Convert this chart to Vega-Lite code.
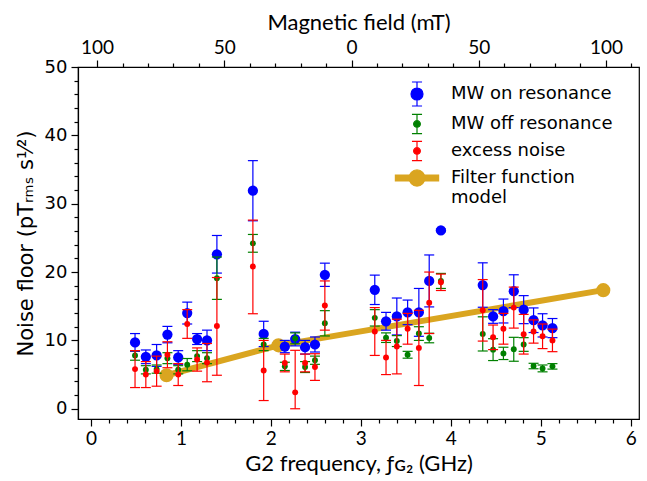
{
  "$schema": "https://vega.github.io/schema/vega-lite/v6.json",
  "width": 561,
  "height": 352,
  "autosize": {"type": "none"},
  "padding": {"left": 78, "top": 67, "right": 8, "bottom": 62},
  "background": "white",
  "config": {
    "view": {"stroke": "#000", "strokeWidth": 1.2},
    "axis": {"domainColor": "#000", "domainWidth": 1.2, "tickColor": "#000", "tickWidth": 1.2, "labelColor": "#000", "titleColor": "#000", "grid": false, "titleFontWeight": "normal", "labelFlush": false, "labelOverlap": false},
    "legend": {"labelColor": "#000"}
  },
  "datasets": {
    "pts": [
      {"freq": 0.49, "series": "MW on resonance", "noise": 9.7, "low": 8.4, "high": 11.0},
      {"freq": 0.61, "series": "MW on resonance", "noise": 7.6, "low": 6.6, "high": 8.6},
      {"freq": 0.73, "series": "MW on resonance", "noise": 7.8, "low": 6.2, "high": 9.4},
      {"freq": 0.85, "series": "MW on resonance", "noise": 10.85, "low": 9.65, "high": 12.05},
      {"freq": 0.97, "series": "MW on resonance", "noise": 7.5, "low": 6.5, "high": 8.5},
      {"freq": 1.07, "series": "MW on resonance", "noise": 14.0, "low": 12.4, "high": 15.6},
      {"freq": 1.18, "series": "MW on resonance", "noise": 10.2, "low": 9.4, "high": 11.0},
      {"freq": 1.29, "series": "MW on resonance", "noise": 10.0, "low": 8.5, "high": 11.5},
      {"freq": 1.40, "series": "MW on resonance", "noise": 22.6, "low": 19.85, "high": 25.35},
      {"freq": 1.80, "series": "MW on resonance", "noise": 31.9, "low": 27.5, "high": 36.3},
      {"freq": 1.92, "series": "MW on resonance", "noise": 10.95, "low": 9.1, "high": 12.8},
      {"freq": 2.155, "series": "MW on resonance", "noise": 9.1, "low": 8.2, "high": 10.0},
      {"freq": 2.27, "series": "MW on resonance", "noise": 10.2, "low": 9.2, "high": 11.2},
      {"freq": 2.38, "series": "MW on resonance", "noise": 9.0, "low": 8.0, "high": 10.0},
      {"freq": 2.49, "series": "MW on resonance", "noise": 9.4, "low": 8.3, "high": 10.5},
      {"freq": 2.60, "series": "MW on resonance", "noise": 19.6, "low": 17.9, "high": 21.3},
      {"freq": 3.155, "series": "MW on resonance", "noise": 17.4, "low": 15.25, "high": 19.55},
      {"freq": 3.28, "series": "MW on resonance", "noise": 12.8, "low": 11.5, "high": 14.1},
      {"freq": 3.40, "series": "MW on resonance", "noise": 13.5, "low": 10.8, "high": 16.2},
      {"freq": 3.52, "series": "MW on resonance", "noise": 14.1, "low": 12.3, "high": 15.9},
      {"freq": 3.645, "series": "MW on resonance", "noise": 14.1, "low": 10.6, "high": 17.6},
      {"freq": 3.76, "series": "MW on resonance", "noise": 18.7, "low": 14.9, "high": 22.5},
      {"freq": 3.89, "series": "MW on resonance", "noise": 26.1, "low": 25.9, "high": 26.3},
      {"freq": 4.355, "series": "MW on resonance", "noise": 18.1, "low": 14.85, "high": 21.35},
      {"freq": 4.47, "series": "MW on resonance", "noise": 13.5, "low": 12.5, "high": 14.5},
      {"freq": 4.585, "series": "MW on resonance", "noise": 14.3, "low": 12.55, "high": 16.05},
      {"freq": 4.70, "series": "MW on resonance", "noise": 17.2, "low": 14.8, "high": 19.6},
      {"freq": 4.81, "series": "MW on resonance", "noise": 14.5, "low": 12.45, "high": 16.55},
      {"freq": 4.92, "series": "MW on resonance", "noise": 12.95, "low": 11.15, "high": 14.75},
      {"freq": 5.02, "series": "MW on resonance", "noise": 12.2, "low": 10.5, "high": 13.9},
      {"freq": 5.13, "series": "MW on resonance", "noise": 11.8, "low": 10.4, "high": 13.2},
      {"freq": 0.49, "series": "MW off resonance", "noise": 7.8, "low": 7.1, "high": 8.5},
      {"freq": 0.61, "series": "MW off resonance", "noise": 5.7, "low": 5.1, "high": 6.3},
      {"freq": 0.73, "series": "MW off resonance", "noise": 5.8, "low": 5.2, "high": 6.4},
      {"freq": 0.85, "series": "MW off resonance", "noise": 7.4, "low": 6.6, "high": 8.2},
      {"freq": 0.97, "series": "MW off resonance", "noise": 5.7, "low": 5.1, "high": 6.3},
      {"freq": 1.07, "series": "MW off resonance", "noise": 6.45, "low": 5.55, "high": 7.35},
      {"freq": 1.18, "series": "MW off resonance", "noise": 7.7, "low": 6.9, "high": 8.5},
      {"freq": 1.29, "series": "MW off resonance", "noise": 7.4, "low": 6.6, "high": 8.2},
      {"freq": 1.40, "series": "MW off resonance", "noise": 19.1, "low": 16.0, "high": 22.2},
      {"freq": 1.80, "series": "MW off resonance", "noise": 24.2, "low": 22.9, "high": 25.5},
      {"freq": 1.92, "series": "MW off resonance", "noise": 9.4, "low": 8.5, "high": 10.3},
      {"freq": 2.155, "series": "MW off resonance", "noise": 6.2, "low": 5.6, "high": 6.8},
      {"freq": 2.27, "series": "MW off resonance", "noise": 10.3, "low": 9.5, "high": 11.1},
      {"freq": 2.38, "series": "MW off resonance", "noise": 6.1, "low": 5.3, "high": 6.9},
      {"freq": 2.49, "series": "MW off resonance", "noise": 7.1, "low": 6.5, "high": 7.7},
      {"freq": 2.60, "series": "MW off resonance", "noise": 12.5, "low": 10.65, "high": 14.35},
      {"freq": 3.155, "series": "MW off resonance", "noise": 13.3, "low": 12.1, "high": 14.5},
      {"freq": 3.28, "series": "MW off resonance", "noise": 10.4, "low": 9.7, "high": 11.1},
      {"freq": 3.40, "series": "MW off resonance", "noise": 9.9, "low": 9.1, "high": 10.7},
      {"freq": 3.52, "series": "MW off resonance", "noise": 7.9, "low": 7.4, "high": 8.4},
      {"freq": 3.645, "series": "MW off resonance", "noise": 11.0, "low": 10.0, "high": 12.0},
      {"freq": 3.76, "series": "MW off resonance", "noise": 10.35, "low": 9.65, "high": 11.05},
      {"freq": 3.89, "series": "MW off resonance", "noise": 18.7, "low": 17.6, "high": 19.8},
      {"freq": 4.355, "series": "MW off resonance", "noise": 10.95, "low": 8.45, "high": 13.45},
      {"freq": 4.47, "series": "MW off resonance", "noise": 8.65, "low": 7.05, "high": 10.25},
      {"freq": 4.585, "series": "MW off resonance", "noise": 8.1, "low": 7.2, "high": 9.0},
      {"freq": 4.70, "series": "MW off resonance", "noise": 8.7, "low": 6.95, "high": 10.45},
      {"freq": 4.81, "series": "MW off resonance", "noise": 9.4, "low": 8.4, "high": 10.4},
      {"freq": 4.92, "series": "MW off resonance", "noise": 6.25, "low": 5.85, "high": 6.65},
      {"freq": 5.02, "series": "MW off resonance", "noise": 5.9, "low": 5.4, "high": 6.4},
      {"freq": 5.13, "series": "MW off resonance", "noise": 6.2, "low": 5.8, "high": 6.6},
      {"freq": 0.49, "series": "excess noise", "noise": 5.8, "low": 3.1, "high": 8.5},
      {"freq": 0.61, "series": "excess noise", "noise": 5.0, "low": 3.1, "high": 6.9},
      {"freq": 0.73, "series": "excess noise", "noise": 5.5, "low": 3.3, "high": 7.7},
      {"freq": 0.85, "series": "excess noise", "noise": 7.9, "low": 6.0, "high": 9.8},
      {"freq": 0.97, "series": "excess noise", "noise": 5.0, "low": 3.4, "high": 6.6},
      {"freq": 1.07, "series": "excess noise", "noise": 12.4, "low": 10.3, "high": 14.5},
      {"freq": 1.18, "series": "excess noise", "noise": 7.2, "low": 5.5, "high": 8.9},
      {"freq": 1.29, "series": "excess noise", "noise": 6.75, "low": 3.95, "high": 9.55},
      {"freq": 1.40, "series": "excess noise", "noise": 12.1, "low": 4.9, "high": 19.2},
      {"freq": 1.80, "series": "excess noise", "noise": 20.8, "low": 13.9, "high": 27.6},
      {"freq": 1.92, "series": "excess noise", "noise": 5.6, "low": 1.2, "high": 10.0},
      {"freq": 2.155, "series": "excess noise", "noise": 6.7, "low": 5.4, "high": 8.0},
      {"freq": 2.27, "series": "excess noise", "noise": 2.4, "low": 0.0, "high": 8.55},
      {"freq": 2.38, "series": "excess noise", "noise": 6.7, "low": 5.4, "high": 8.0},
      {"freq": 2.49, "series": "excess noise", "noise": 6.1, "low": 4.15, "high": 8.05},
      {"freq": 2.60, "series": "excess noise", "noise": 15.1, "low": 11.5, "high": 18.7},
      {"freq": 3.155, "series": "excess noise", "noise": 11.3, "low": 7.8, "high": 14.8},
      {"freq": 3.28, "series": "excess noise", "noise": 7.5, "low": 5.0, "high": 10.0},
      {"freq": 3.40, "series": "excess noise", "noise": 9.1, "low": 5.1, "high": 13.1},
      {"freq": 3.52, "series": "excess noise", "noise": 11.7, "low": 9.45, "high": 13.95},
      {"freq": 3.645, "series": "excess noise", "noise": 8.9, "low": 3.4, "high": 14.4},
      {"freq": 3.76, "series": "excess noise", "noise": 15.5, "low": 11.0, "high": 20.0},
      {"freq": 3.89, "series": "excess noise", "noise": 18.5, "low": 17.3, "high": 19.7},
      {"freq": 4.355, "series": "excess noise", "noise": 14.4, "low": 9.9, "high": 18.9},
      {"freq": 4.47, "series": "excess noise", "noise": 10.45, "low": 8.65, "high": 12.25},
      {"freq": 4.585, "series": "excess noise", "noise": 11.7, "low": 9.45, "high": 13.95},
      {"freq": 4.70, "series": "excess noise", "noise": 14.8, "low": 11.8, "high": 17.8},
      {"freq": 4.81, "series": "excess noise", "noise": 10.9, "low": 8.0, "high": 13.8},
      {"freq": 4.92, "series": "excess noise", "noise": 11.3, "low": 9.6, "high": 13.0},
      {"freq": 5.02, "series": "excess noise", "noise": 10.6, "low": 8.8, "high": 12.4},
      {"freq": 5.13, "series": "excess noise", "noise": 10.0, "low": 8.35, "high": 11.65}
    ],
    "model": [
      {"freq": 0.84, "noise": 4.9},
      {"freq": 2.085, "noise": 9.28},
      {"freq": 5.695, "noise": 17.35}
    ],
    "legendrows": [
      {"series": "MW on resonance"},
      {"series": "MW off resonance"},
      {"series": "excess noise"},
      {"series": "Filter function model"}
    ]
  },
  "layer": [
    {
      "layer": [
        {
          "data": {"name": "model"},
          "mark": {"type": "line", "color": "#daa520", "strokeWidth": 6},
          "encoding": {
            "x": {"field": "freq", "type": "quantitative", "scale": {"domain": [-0.144, 6.092], "nice": false, "zero": false}, "axis": null},
            "y": {"field": "noise", "type": "quantitative", "scale": {"domain": [-1.5, 50], "nice": false, "zero": false}, "axis": null}
          }
        },
        {
          "data": {"name": "model"},
          "mark": {"type": "point", "filled": true, "color": "#daa520", "size": 200, "opacity": 1},
          "encoding": {
            "x": {"field": "freq", "type": "quantitative", "scale": {"domain": [-0.144, 6.092], "nice": false, "zero": false}, "axis": null},
            "y": {"field": "noise", "type": "quantitative", "scale": {"domain": [-1.5, 50], "nice": false, "zero": false}, "axis": null}
          }
        },
        {
          "data": {"name": "pts"},
          "transform": [{"filter": "datum.series === 'MW on resonance'"}],
          "layer": [
            {"mark": {"type": "rule", "color": "#0000ff", "strokeWidth": 1.2},
             "encoding": {"y": {"field": "low", "type": "quantitative", "scale": {"domain": [-1.5, 50], "nice": false, "zero": false}, "axis": null}, "y2": {"field": "high"}}},
            {"mark": {"type": "tick", "orient": "horizontal", "color": "#0000ff", "size": 10, "thickness": 1.2, "opacity": 1},
             "encoding": {"y": {"field": "low", "type": "quantitative", "scale": {"domain": [-1.5, 50], "nice": false, "zero": false}, "axis": null}}},
            {"mark": {"type": "tick", "orient": "horizontal", "color": "#0000ff", "size": 10, "thickness": 1.2, "opacity": 1},
             "encoding": {"y": {"field": "high", "type": "quantitative", "scale": {"domain": [-1.5, 50], "nice": false, "zero": false}, "axis": null}}},
            {"mark": {"type": "point", "filled": true, "color": "#0000ff", "size": 105, "opacity": 1},
             "encoding": {"y": {"field": "noise", "type": "quantitative", "scale": {"domain": [-1.5, 50], "nice": false, "zero": false}, "axis": null}}}
          ],
          "encoding": {
            "x": {"field": "freq", "type": "quantitative", "scale": {"domain": [-0.144, 6.092], "nice": false, "zero": false}, "axis": null}
          }
        },
        {
          "data": {"name": "pts"},
          "transform": [{"filter": "datum.series === 'MW off resonance'"}],
          "layer": [
            {"mark": {"type": "rule", "color": "#008000", "strokeWidth": 1.2},
             "encoding": {"y": {"field": "low", "type": "quantitative", "scale": {"domain": [-1.5, 50], "nice": false, "zero": false}, "axis": null}, "y2": {"field": "high"}}},
            {"mark": {"type": "tick", "orient": "horizontal", "color": "#008000", "size": 10, "thickness": 1.2, "opacity": 1},
             "encoding": {"y": {"field": "low", "type": "quantitative", "scale": {"domain": [-1.5, 50], "nice": false, "zero": false}, "axis": null}}},
            {"mark": {"type": "tick", "orient": "horizontal", "color": "#008000", "size": 10, "thickness": 1.2, "opacity": 1},
             "encoding": {"y": {"field": "high", "type": "quantitative", "scale": {"domain": [-1.5, 50], "nice": false, "zero": false}, "axis": null}}},
            {"mark": {"type": "point", "filled": true, "color": "#008000", "size": 35, "opacity": 1},
             "encoding": {"y": {"field": "noise", "type": "quantitative", "scale": {"domain": [-1.5, 50], "nice": false, "zero": false}, "axis": null}}}
          ],
          "encoding": {
            "x": {"field": "freq", "type": "quantitative", "scale": {"domain": [-0.144, 6.092], "nice": false, "zero": false}, "axis": null}
          }
        },
        {
          "data": {"name": "pts"},
          "transform": [{"filter": "datum.series === 'excess noise'"}],
          "layer": [
            {"mark": {"type": "rule", "color": "#ff0000", "strokeWidth": 1.2},
             "encoding": {"y": {"field": "low", "type": "quantitative", "scale": {"domain": [-1.5, 50], "nice": false, "zero": false}, "axis": null}, "y2": {"field": "high"}}},
            {"mark": {"type": "tick", "orient": "horizontal", "color": "#ff0000", "size": 10, "thickness": 1.2, "opacity": 1},
             "encoding": {"y": {"field": "low", "type": "quantitative", "scale": {"domain": [-1.5, 50], "nice": false, "zero": false}, "axis": null}}},
            {"mark": {"type": "tick", "orient": "horizontal", "color": "#ff0000", "size": 10, "thickness": 1.2, "opacity": 1},
             "encoding": {"y": {"field": "high", "type": "quantitative", "scale": {"domain": [-1.5, 50], "nice": false, "zero": false}, "axis": null}}},
            {"mark": {"type": "point", "filled": true, "color": "#ff0000", "size": 35, "opacity": 1},
             "encoding": {"y": {"field": "noise", "type": "quantitative", "scale": {"domain": [-1.5, 50], "nice": false, "zero": false}, "axis": null}}}
          ],
          "encoding": {
            "x": {"field": "freq", "type": "quantitative", "scale": {"domain": [-0.144, 6.092], "nice": false, "zero": false}, "axis": null}
          }
        },
        {
          "data": {"name": "legendrows"},
          "mark": {"type": "point", "filled": true, "opacity": 0},
          "encoding": {
            "color": {"field": "series", "type": "nominal",
              "scale": {"domain": ["MW on resonance", "MW off resonance", "excess noise", "Filter function model"], "range": ["#0000ff", "#008000", "#ff0000", "#daa520"]},
              "legend": {
                "title": null, "orient": "none", "legendX": 326, "legendY": 14, "padding": 0,
                "symbolSize": 576, "symbolStrokeWidth": 1.2, "symbolOpacity": 1,
                "labelFont": "DejaVu Sans", "labelFontSize": 18, "labelOffset": 21, "rowPadding": 2, "labelLimit": 400,
                "labelExpr": "datum.label === 'Filter function model' ? ['Filter function', 'model'] : datum.label",
                "encode": {"symbols": {"update": {"fill": {"scale": "color", "field": "value"}, "stroke": {"scale": "color", "field": "value"}, "opacity": {"value": 1}, "fillOpacity": {"value": 1}, "strokeOpacity": {"value": 1}}}}
              }},
            "shape": {"field": "series", "type": "nominal",
              "scale": {"domain": ["MW on resonance", "MW off resonance", "excess noise", "Filter function model"],
                "range": [
                  "M0,-1V1M-0.42,-1H0.42M-0.42,1H0.42M-0.5,0A0.5,0.5 0 1,1 0.5,0A0.5,0.5 0 1,1 -0.5,0Z",
                  "M0,-0.8V0.8M-0.42,-0.8H0.42M-0.42,0.8H0.42M-0.28,0A0.28,0.28 0 1,1 0.28,0A0.28,0.28 0 1,1 -0.28,0Z",
                  "M0,-0.8V0.8M-0.42,-0.8H0.42M-0.42,0.8H0.42M-0.28,0A0.28,0.28 0 1,1 0.28,0A0.28,0.28 0 1,1 -0.28,0Z",
                  "M-1.8,-0.25H1.8V0.25H-1.8ZM-0.67,0A0.67,0.67 0 1,1 0.67,0A0.67,0.67 0 1,1 -0.67,0Z"
                ]}}
          }
        }
      ]
    },
    {
      "data": {"name": "model"},
      "mark": {"type": "point", "opacity": 0},
      "encoding": {
        "x": {"field": "freq", "type": "quantitative", "scale": {"domain": [-107.5, 113], "nice": false, "zero": false},
          "axis": {
            "orient": "top",
            "values": [-100, -90, -80, -70, -60, -50, -40, -30, -20, -10, 0, 10, 20, 30, 40, 50, 60, 70, 80, 90, 100, 110],
            "labelExpr": "datum.value % 50 === 0 ? format(abs(datum.value), 'd') : ''",
            "tickSize": {"condition": {"test": "datum.value % 50 === 0", "value": 7}, "value": 4},
            "labelOverlap": false,
            "labelFont": "Lato", "labelFontSize": 19, "labelPadding": 3,
            "title": "Magnetic field (mT)", "titleFont": "Lato", "titleFontSize": 22, "titlePadding": 4
          }},
        "y": {"field": "noise", "type": "quantitative", "scale": {"domain": [-1.5, 50], "nice": false, "zero": false},
          "axis": {
            "orient": "left",
            "values": [0, 2, 4, 6, 8, 10, 12, 14, 16, 18, 20, 22, 24, 26, 28, 30, 32, 34, 36, 38, 40, 42, 44, 46, 48, 50],
            "labelExpr": "datum.value % 10 === 0 ? format(datum.value, 'd') : ''",
            "tickSize": {"condition": {"test": "datum.value % 10 === 0", "value": 7}, "value": 4},
            "labelOverlap": false,
            "labelFont": "DejaVu Sans", "labelFontSize": 18, "labelPadding": 4,
            "title": "Noise floor (pTᵣₘₛ s¹⁄²)", "titleFont": "DejaVu Sans", "titleFontSize": 21, "titlePadding": 8
          }}
      }
    },
    {
      "data": {"name": "model"},
      "mark": {"type": "point", "opacity": 0},
      "encoding": {
        "x": {"field": "freq", "type": "quantitative", "scale": {"domain": [-0.144, 6.092], "nice": false, "zero": false},
          "axis": {
            "orient": "bottom",
            "values": [0, 0.2, 0.4, 0.6, 0.8, 1, 1.2, 1.4, 1.6, 1.8, 2, 2.2, 2.4, 2.6, 2.8, 3, 3.2, 3.4, 3.6, 3.8, 4, 4.2, 4.4, 4.6, 4.8, 5, 5.2, 5.4, 5.6, 5.8, 6],
            "labelExpr": "abs(datum.value - round(datum.value)) < 0.001 ? format(datum.value, 'd') : ''",
            "tickSize": {"condition": {"test": "abs(datum.value - round(datum.value)) < 0.001", "value": 7}, "value": 4},
            "labelOverlap": false,
            "labelFont": "Lato", "labelFontSize": 19, "labelPadding": 3,
            "title": "G2 frequency, ƒɢ₂ (GHz)", "titleFont": "Lato", "titleFontSize": 22, "titlePadding": 5
          }},
        "y": {"field": "noise", "type": "quantitative", "scale": {"domain": [-1.5, 50], "nice": false, "zero": false}, "axis": null}
      }
    }
  ],
  "resolve": {"scale": {"x": "independent", "y": "independent"}}
}
